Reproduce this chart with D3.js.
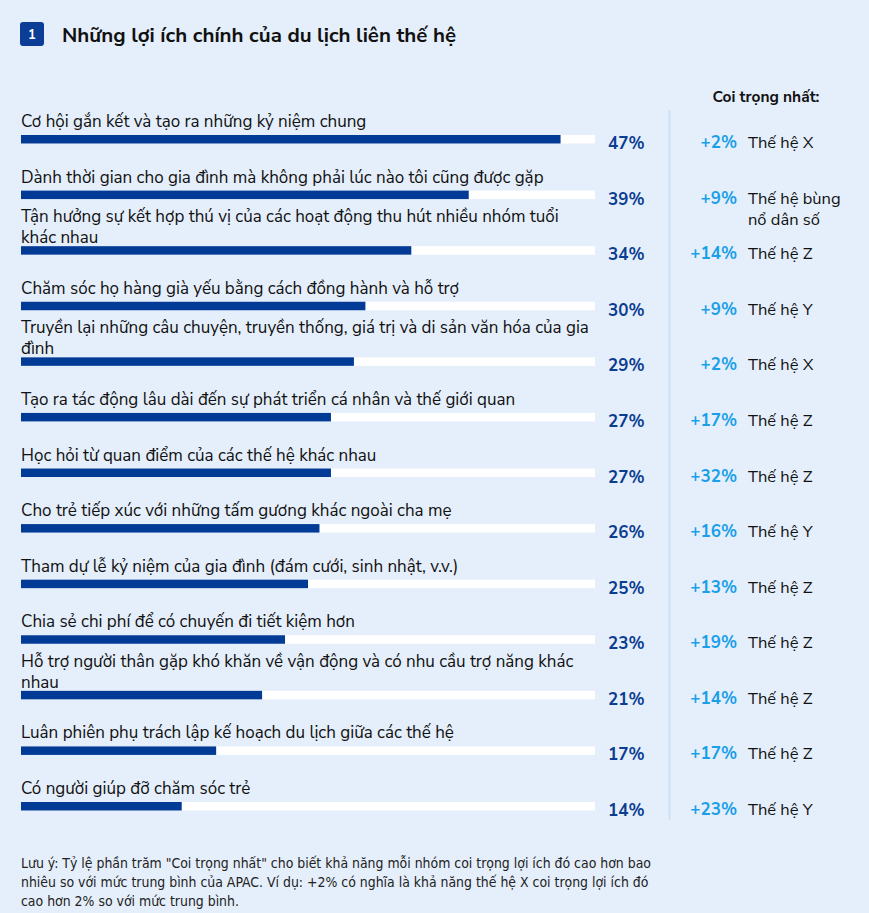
<!DOCTYPE html>
<html>
<head>
<meta charset="utf-8">
<script src="https://cdn.jsdelivr.net/npm/d3@7"></script>
<style>
  body { margin: 0; background: #e5effb; }
  svg { display: block; }
</style>
</head>
<body>
<div id="chart"></div>
<script>
// benefit labels (pre-wrapped as in the picture)
var benefits = [
    ["Cơ hội gắn kết và tạo ra những kỷ niệm chung"],
    ["Dành thời gian cho gia đình mà không phải lúc nào tôi cũng được gặp"],
    ["Tận hưởng sự kết hợp thú vị của các hoạt động thu hút nhiều nhóm tuổi", "khác nhau"],
    ["Chăm sóc họ hàng già yếu bằng cách đồng hành và hỗ trợ"],
    ["Truyền lại những câu chuyện, truyền thống, giá trị và di sản văn hóa của gia", "đình"],
    ["Tạo ra tác động lâu dài đến sự phát triển cá nhân và thế giới quan"],
    ["Học hỏi từ quan điểm của các thế hệ khác nhau"],
    ["Cho trẻ tiếp xúc với những tấm gương khác ngoài cha mẹ"],
    ["Tham dự lễ kỷ niệm của gia đình (đám cưới, sinh nhật, v.v.)"],
    ["Chia sẻ chi phí để có chuyến đi tiết kiệm hơn"],
    ["Hỗ trợ người thân gặp khó khăn về vận động và có nhu cầu trợ năng khác", "nhau"],
    ["Luân phiên phụ trách lập kế hoạch du lịch giữa các thế hệ"],
    ["Có người giúp đỡ chăm sóc trẻ"]
];
var shares = [47, 39, 34, 30, 29, 27, 27, 26, 25, 23, 21, 17, 14];
var deltas = [2, 9, 14, 9, 2, 17, 32, 16, 13, 19, 14, 17, 23];
var generations = [
    ["Thế hệ X"], ["Thế hệ bùng", "nổ dân số"], ["Thế hệ Z"], ["Thế hệ Y"],
    ["Thế hệ X"], ["Thế hệ Z"], ["Thế hệ Z"], ["Thế hệ Y"], ["Thế hệ Z"],
    ["Thế hệ Z"], ["Thế hệ Z"], ["Thế hệ Z"], ["Thế hệ Y"]
];
var title = "Những lợi ích chính của du lịch liên thế hệ";
var columnTitle = "Coi trọng nhất:";
var note = [
    "Lưu ý: Tỷ lệ phần trăm \"Coi trọng nhất\" cho biết khả năng mỗi nhóm coi trọng lợi ích đó cao hơn bao",
    "nhiêu so với mức trung bình của APAC. Ví dụ: +2% có nghĩa là khả năng thế hệ X coi trọng lợi ích đó",
    "cao hơn 2% so với mức trung bình."
];

var data = shares.map(function (s, i) {
    return {idx: i, label: benefits[i], share: s, delta: deltas[i], gen: generations[i]};
});

var width = 869, height = 913;
var font = "'Nunito Sans', 'Open Sans', 'Noto Sans', sans-serif";

var svg = d3.select("#chart").append("svg")
    .attr("width", width)
    .attr("height", height)
    .style("font-family", font);

svg.append("rect").attr("width", width).attr("height", height).attr("fill", "#e5effb");

// title with badge
svg.append("rect")
    .attr("x", 20).attr("y", 22).attr("width", 24).attr("height", 24)
    .attr("rx", 3).attr("fill", "#0b3d96");
svg.append("text")
    .attr("x", 32).attr("y", 39)
    .attr("text-anchor", "middle")
    .attr("fill", "white")
    .style("font-size", "13px").style("font-weight", 700)
    .text("1");
svg.append("text")
    .attr("x", 62).attr("y", 42)
    .attr("fill", "#111")
    .style("font-size", "20.5px").style("font-weight", 700)
    .text(title);

// scales
var xScale = d3.scaleLinear().domain([0, 50]).range([21, 595]);
var yScale = d3.scalePoint().domain(d3.range(data.length)).range([135, 802]);
var barH = 8.5;

// divider
svg.append("line")
    .attr("x1", 669.5).attr("x2", 669.5)
    .attr("y1", 110).attr("y2", 820)
    .attr("stroke", "#cfe0f5").attr("stroke-width", 2);

svg.append("text")
    .attr("x", 766).attr("y", 102)
    .attr("text-anchor", "middle")
    .attr("fill", "#111")
    .style("font-size", "15.5px").style("font-weight", 700)
    .text(columnTitle);

var rows = svg.selectAll(".row")
    .data(data)
    .join("g")
    .attr("class", "row");

// track
rows.append("rect")
    .attr("x", xScale(0))
    .attr("y", d => yScale(d.idx))
    .attr("width", xScale(50) - xScale(0))
    .attr("height", barH)
    .attr("fill", "white");

// value bar
rows.append("rect")
    .attr("x", xScale(0))
    .attr("y", d => yScale(d.idx))
    .attr("width", d => xScale(d.share) - xScale(0))
    .attr("height", barH)
    .attr("fill", "#023b95");

// labels
rows.each(function (d) {
    var g = d3.select(this);
    var top = yScale(d.idx);
    var n = d.label.length;
    d.label.forEach(function (line, j) {
        var base = n === 1 ? top - 8 : top - 3 - (n - 1 - j) * 21;
        g.append("text")
            .attr("x", 21).attr("y", base)
            .attr("fill", "#111")
            .style("font-size", "17px")
            .text(line);
    });
    d.gen.forEach(function (line, j) {
        g.append("text")
            .attr("x", 748).attr("y", top + 13 + j * 21)
            .attr("fill", "#111")
            .style("font-size", "16.5px")
            .text(line);
    });
});

rows.append("text")
    .attr("x", 608)
    .attr("y", d => yScale(d.idx) + 14)
    .attr("fill", "#0b3d91")
    .style("font-size", "17px").style("font-weight", 700)
    .text(d => d.share + "%");

rows.append("text")
    .attr("x", 737)
    .attr("y", d => yScale(d.idx) + 13)
    .attr("text-anchor", "end")
    .attr("fill", "#1a9fe8")
    .style("font-size", "17px").style("font-weight", 700)
    .text(d => "+" + d.delta + "%");

// footnote
svg.selectAll(".note")
    .data(note)
    .join("text")
    .attr("class", "note")
    .attr("x", 21)
    .attr("y", (d, i) => 868 + i * 19)
    .attr("fill", "#222")
    .style("font-family", "'Liberation Sans Narrow', 'DejaVu Sans Condensed', sans-serif")
    .style("font-stretch", "condensed")
    .style("font-size", "13.9px")
    .text(d => d);
</script>
</body>
</html>
